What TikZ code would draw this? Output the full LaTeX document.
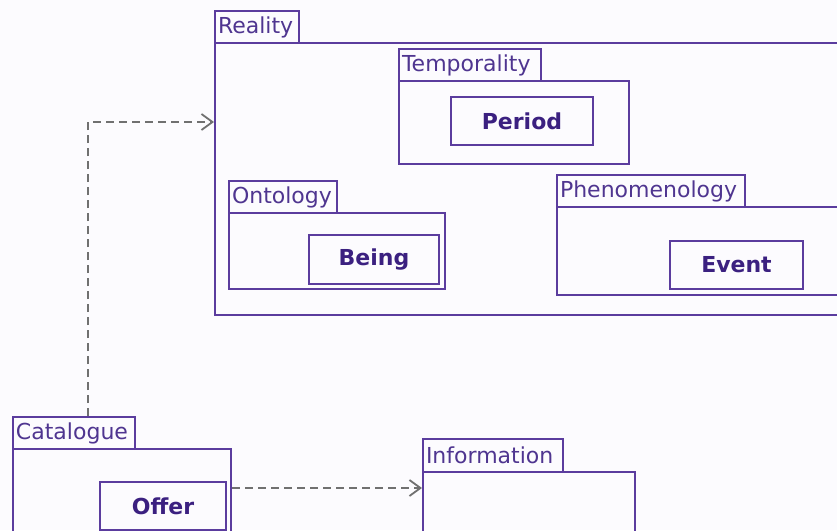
\documentclass[tikz,border=0pt]{standalone}
\usepackage{fontspec}
\setmainfont{DejaVu Sans}
\usetikzlibrary{arrows.meta}
\definecolor{pkgline}{HTML}{5B3C9E}
\definecolor{pkgtext}{HTML}{4F3590}
\definecolor{clstext}{HTML}{3B2080}
\definecolor{deparrow}{HTML}{707070}
\definecolor{paper}{HTML}{FCFBFE}
\tikzset{
  pkgtab/.style={draw=pkgline, line width=2pt, rectangle, anchor=north west,
    inner xsep=3pt, inner ysep=0pt, align=left, text=pkgtext,
    font=\fontsize{22}{24}\selectfont},
  pkgbody/.style={draw=pkgline, line width=2pt, rectangle, anchor=north west,
    inner sep=0pt},
  cls/.style={draw=pkgline, line width=2pt, rectangle, anchor=north west,
    inner sep=0pt, text=clstext, font=\fontsize{22}{24}\selectfont\bfseries},
  dep/.style={draw=deparrow, line width=1.8pt, dash pattern=on 8pt off 5pt,
    -{Straight Barb[length=11pt,width=16pt,line width=1.8pt]}}
}
\begin{document}
\begin{tikzpicture}[x=1pt, y=-1pt]
\useasboundingbox (0,0) rectangle (837,530);
\fill[paper] (0,0) rectangle (837,530);
\clip (0,0) rectangle (837,530);

% Reality package
\node[pkgbody, minimum width=646pt, minimum height=272pt] (realityBody) at (214,42) {};
\node[pkgtab, text width=78pt, minimum height=32pt] (realityTab) at (214,10) {Reality};

% Temporality package
\node[pkgbody, minimum width=230pt, minimum height=83pt] (tempBody) at (398,80) {};
\node[pkgtab, text width=136pt, minimum height=32pt] (tempTab) at (398,48) {Temporality};
\node[cls, minimum width=142pt, minimum height=48pt] (period) at (450,96) {Period};

% Ontology package
\node[pkgbody, minimum width=216pt, minimum height=76pt] (ontoBody) at (228,212) {};
\node[pkgtab, text width=102pt, minimum height=32pt] (ontoTab) at (228,180) {Ontology};
\node[cls, minimum width=130pt, minimum height=49pt] (being) at (308,234) {Being};

% Phenomenology package
\node[pkgbody, minimum width=304pt, minimum height=88pt] (phenoBody) at (556,206) {};
\node[pkgtab, text width=182pt, minimum height=32pt] (phenoTab) at (556,174) {Phenomenology};
\node[cls, minimum width=133pt, minimum height=48pt] (event) at (669,240) {Event};

% Catalogue package
\node[pkgbody, minimum width=218pt, minimum height=112pt] (catBody) at (12,448) {};
\node[pkgtab, text width=116pt, minimum height=32pt] (catTab) at (12,416) {Catalogue};
\node[cls, minimum width=126pt, minimum height=48pt] (offer) at (99,481) {Offer};

% Information package
\node[pkgbody, minimum width=212pt, minimum height=89pt] (infoBody) at (422,471) {};
\node[pkgtab, text width=134pt, minimum height=33pt] (infoTab) at (422,438) {Information};

% Dependencies
\draw[dep] ([xshift=76pt]catTab.north west) |- ([yshift=-80pt]realityBody.north west);
\draw[dep] ([yshift=-40pt]catBody.north east) -- ([yshift=-17pt]infoBody.north west);
\end{tikzpicture}
\end{document}
